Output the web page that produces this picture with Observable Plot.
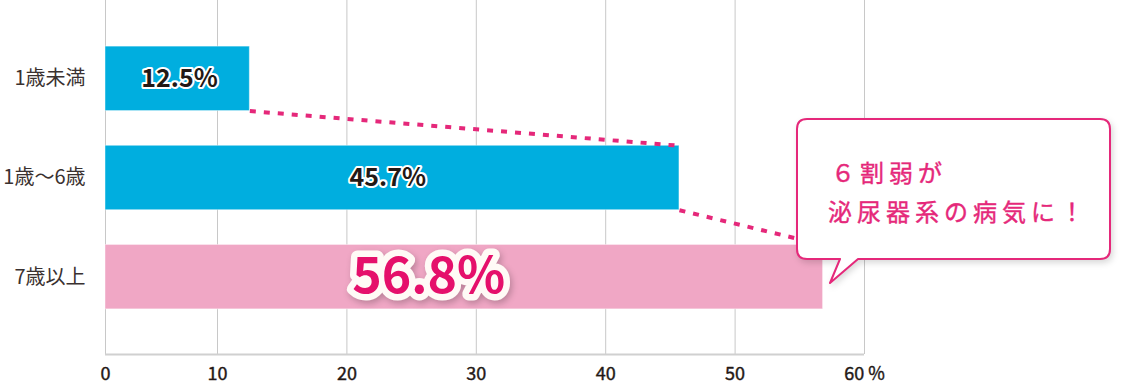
<!DOCTYPE html>
<html><head><meta charset="utf-8">
<script src="https://cdn.jsdelivr.net/npm/d3@7"></script>
<script src="https://cdn.jsdelivr.net/npm/@observablehq/plot@0.6"></script>
<style>
body{margin:0;background:#fff;}
svg{display:block;}
</style></head><body><div id="chart"></div>
<script>
const categories = ["1歳未満", "1歳〜6歳", "7歳以上"];
const values = [12.5, 45.7, 56.8];
const barColors = ["#00aedf", "#00aedf", "#f0a7c5"];
const xTicks = [0, 10, 20, 30, 40, 50, 60];
const calloutLines = ["６割弱が", "泌尿器系の病気に！"];

const rows = categories.map((cat, i) => ({cat, i, value: values[i], color: barColors[i]}));
const half = 0.325;
const yDomain = [-0.79, 2.78];
const W = 1123, H = 386;
const ink = "#231815", magenta = "#e5287a";
const font = "'Noto Sans CJK JP', 'Noto Sans', sans-serif";

const plot = Plot.plot({
  width: W, height: H,
  marginLeft: 105, marginRight: 259, marginTop: 0, marginBottom: 32,
  x: {type: "linear", domain: [0, 10, 60], range: [105, 217, 864], axis: null},
  y: {domain: yDomain, reverse: true, axis: null},
  color: {type: "identity"},
  style: {fontFamily: font, background: "#fff", color: ink, overflow: "visible"},
  marks: [
    Plot.ruleX(xTicks, {x: d => d, stroke: "#c8c8c8", strokeWidth: 1}),
    Plot.rect(rows, {x1: () => 0, x2: "value", y1: d => d.i - half, y2: d => d.i + half,
      fill: "color", stroke: "#ffffff", strokeOpacity: 0.45, strokeWidth: 1}),
    Plot.ruleY([yDomain[1]], {stroke: "#d0d0d0", strokeWidth: 2}),
    Plot.link(rows.slice(0, -1), {
      x1: "value", y1: d => d.i + half,
      x2: d => values[d.i + 1], y2: d => d.i + 1 - half,
      stroke: magenta, strokeWidth: 4, strokeDasharray: "6,8"
    }),
    Plot.text(rows, {y: "i", text: "cat", frameAnchor: "left", textAnchor: "end", dx: -20,
      fontSize: 20, fill: "#3a3130"}),
    Plot.text(xTicks, {x: d => d, text: d => d === 60 ? "60 %" : String(d), frameAnchor: "bottom",
      dy: 25, fontSize: 18, fill: ink, stroke: ink, strokeWidth: 0.4}),
    Plot.text(rows, {filter: d => d.i < 2, x: d => d.value / 2, y: "i", text: d => `${d.value}%`,
      dx: 4, fontSize: 25, fontWeight: "bold", fill: ink, stroke: "#ffffff", strokeWidth: 4,
      strokeLinejoin: "round", paintOrder: "stroke"}),
    Plot.text(rows, {filter: d => d.i === 2, x: d => d.value / 2, y: "i", text: d => `${d.value}%`,
      dx: -27, fontSize: 50, fontWeight: "bold", fill: "#e5106b", stroke: "#fffaf6", strokeWidth: 13,
      strokeLinejoin: "round", paintOrder: "stroke"})
  ]
});

document.getElementById("chart").appendChild(plot);
const svg = d3.select(plot);
svg.selectAll("text").filter(function() { return this.textContent === `${values[2]}%`; })
  .style("filter", "drop-shadow(2px 3px 3px rgba(0,0,0,0.22))");

// Callout bubble
const bx0 = 797, by0 = 119, bx1 = 1110, by1 = 259, r = 10;
const tail = {left: 840, right: 858, tipX: 830, tipY: 283};
const path = `M${bx0 + r},${by0} H${bx1 - r} Q${bx1},${by0} ${bx1},${by0 + r} V${by1 - r} Q${bx1},${by1} ${bx1 - r},${by1}
 H${tail.right} L${tail.tipX},${tail.tipY} L${tail.left},${by1} H${bx0 + r} Q${bx0},${by1} ${bx0},${by1 - r} V${by0 + r} Q${bx0},${by0} ${bx0 + r},${by0} Z`;
const g = svg.append("g");
g.append("path").attr("d", path).attr("fill", "#fff").attr("stroke", magenta).attr("stroke-width", 2)
  .attr("stroke-linejoin", "round")
  .style("filter", "drop-shadow(2px 3px 3px rgba(0,0,0,0.15))");
g.selectAll("text.callout").data(calloutLines).join("text")
  .attr("class", "callout")
  .attr("x", (d, i) => i === 0 ? 831 : 828)
  .attr("y", (d, i) => i === 0 ? 173 : 212)
  .attr("dy", "0.36em")
  .attr("text-anchor", "start")
  .attr("fill", magenta)
  .attr("stroke", magenta)
  .attr("stroke-width", 0.4)
  .style("font-family", font)
  .style("font-size", "24px")
  .style("letter-spacing", "5px")
  .text(d => d);
</script></body></html>
